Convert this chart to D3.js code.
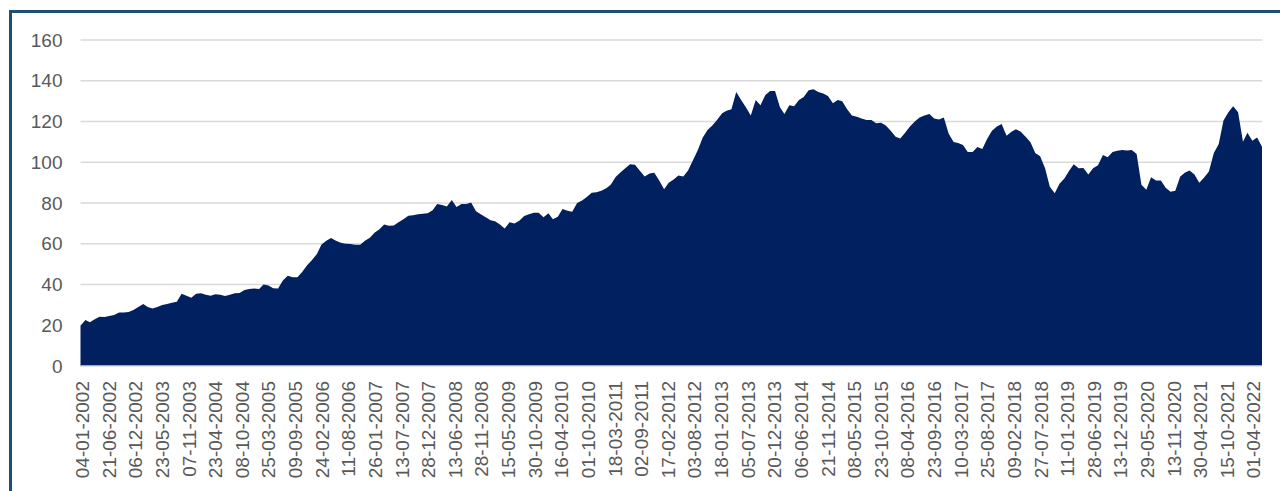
<!DOCTYPE html>
<html lang="en">
<head>
<meta charset="utf-8">
<title>Index chart</title>
<script src="https://d3js.org/d3.v7.min.js"></script>
<style>
  body { margin: 0; background: #fff; }
  svg text { font-family: "Liberation Sans", Arial, sans-serif; fill: #595959; }
</style>
</head>
<body>
<script>
// canvas
var w = 1280, h = 491;
var left = 80.5, right = 1262, top0 = 40, bottom = 366;

// first month of the series, one value per month after that
var firstMonth = "2002-01-01";
var lastMonth = "2022-06-01";

var values2002_2006 = [
  19.8, 22.6, 21.5, 23, 24.2, 24, 24.5, 25, 26.3, 26.3, 26.5, 27.5,
  29, 30.4, 29, 28.2, 29, 30, 30.4, 31, 31.5, 35.5, 34.5, 33.5,
  35.5, 35.7, 35, 34.5, 35.2, 35, 34.4, 35, 35.7, 35.8, 37.3, 37.8,
  38, 37.8, 40, 39.5, 38.2, 38, 42, 44.3, 43.5, 43.5, 46.3, 49.4,
  52, 55, 59.5, 61.5, 62.8, 61.5, 60.5, 60, 59.9, 59.5, 59.5, 61.5
];
var values2007_2011 = [
  63, 65.5, 67, 69.5, 68.8, 69, 70.5, 72, 73.8, 74, 74.5, 74.7,
  75, 76.5, 79.5, 79, 78.3, 81.5, 78, 79.5, 79.5, 80.2, 76, 74.5,
  73, 71.5, 71, 69.5, 67.5, 70.5, 70, 71.3, 73.6, 74.5, 75.2, 75.2,
  73, 75, 72, 73.3, 77, 76.2, 75.7, 80, 81.2, 83, 85, 85.3,
  86, 87.3, 89, 92.8, 95, 97, 99, 98.8, 95.8, 93, 94.5, 94.8
];
var values2012_2016 = [
  91, 86.7, 90, 91.5, 93.5, 93, 96, 101, 106, 112, 115.8, 118,
  120.8, 124, 125.3, 126, 134.5, 130.5, 127, 123, 130.5, 128, 133, 135,
  135, 127, 123.7, 128, 127.5, 130.5, 132, 135.3, 135.8, 134.5, 133.8, 132.5,
  129, 130.5, 130, 126, 123, 122.3, 121.5, 120.7, 120.7, 119.1, 119.4, 118,
  115.5, 112.5, 111.7, 114.5, 117.5, 120, 122, 123, 123.7, 121.5, 121, 122
];
var values2017_2022 = [
  114, 110, 109.4, 108.5, 105, 105, 107.5, 106.5, 111.5, 115.5, 117.5, 118.8,
  113, 115, 116.2, 115, 112.5, 109.8, 104.5, 103, 97, 88, 84.8, 89.5,
  92, 96, 99, 97, 97.2, 94, 97, 98.5, 103.5, 102.5, 105, 105.6,
  106, 105.8, 106, 104, 89, 86.5, 92.6, 91, 91, 87.5, 85.5, 86,
  93, 95, 96, 94, 90, 92.5, 95.5, 104.5, 109, 120.5, 124.5, 127.5,
  124.5, 110.1, 114.5, 110.5, 112.2, 107.6
];

var yTicks = [0, 20, 40, 60, 80, 100, 120, 140, 160];
var xTickLabels = [
  "04-01-2002", "21-06-2002", "06-12-2002", "23-05-2003", "07-11-2003",
  "23-04-2004", "08-10-2004", "25-03-2005", "09-09-2005", "24-02-2006",
  "11-08-2006", "26-01-2007", "13-07-2007", "28-12-2007", "13-06-2008",
  "28-11-2008", "15-05-2009", "30-10-2009", "16-04-2010", "01-10-2010",
  "18-03-2011", "02-09-2011", "17-02-2012", "03-08-2012", "18-01-2013",
  "05-07-2013", "20-12-2013", "06-06-2014", "21-11-2014", "08-05-2015",
  "23-10-2015", "08-04-2016", "23-09-2016", "10-03-2017", "25-08-2017",
  "09-02-2018", "27-07-2018", "11-01-2019", "28-06-2019", "13-12-2019",
  "29-05-2020", "13-11-2020", "30-04-2021", "15-10-2021", "01-04-2022"
];

var parseIso = d3.timeParse("%Y-%m-%d");
var parseTick = d3.timeParse("%d-%m-%Y");
var start = parseIso(firstMonth);

var allValues = values2002_2006.concat(values2007_2011, values2012_2016, values2017_2022);
var data = allValues.map(function(v, i) {
  return { date: d3.timeMonth.offset(start, i), value: v };
});

var x = d3.scaleTime().domain([start, parseIso(lastMonth)]).range([left, right]);
var y = d3.scaleLinear().domain([0, 160]).range([bottom, top0]);

var svg = d3.select("body").append("svg").attr("width", w).attr("height", h);
svg.append("rect").attr("width", w).attr("height", h).attr("fill", "white");

// frame (only top and left edges show in the picture)
svg.append("rect")
  .attr("x", 10.5).attr("y", 11.5)
  .attr("width", 1300).attr("height", 520)
  .attr("fill", "none").attr("stroke", "#1f4e79").attr("stroke-width", 3);

// gridlines
svg.append("g").selectAll("line").data(yTicks.slice(1)).enter().append("line")
  .attr("x1", left).attr("x2", right)
  .attr("y1", function(d) { return y(d); }).attr("y2", function(d) { return y(d); })
  .attr("stroke", "#d9d9d9").attr("stroke-width", 1.5);

// area
var area = d3.area()
  .x(function(d) { return x(d.date); })
  .y0(y(0))
  .y1(function(d) { return y(d.value); });
svg.append("path").datum(data).attr("d", area).attr("fill", "#002060");

// baseline
svg.append("line").attr("x1", left).attr("x2", right)
  .attr("y1", y(0)).attr("y2", y(0))
  .attr("stroke", "#d9d9d9").attr("stroke-width", 1.5);

// y axis labels
var yAxis = d3.axisLeft(y).tickValues(yTicks).tickSize(0).tickPadding(18);
var gy = svg.append("g").attr("transform", "translate(" + left + ",0)").call(yAxis);
gy.select(".domain").remove();
gy.selectAll("text").style("font-size", "19px").attr("fill", "#595959");

// x axis labels, rotated
var xAxis = d3.axisBottom(x)
  .tickValues(xTickLabels.map(parseTick))
  .tickFormat(d3.timeFormat("%d-%m-%Y"))
  .tickSize(0);
var gx = svg.append("g").attr("transform", "translate(0," + bottom + ")").call(xAxis);
gx.select(".domain").remove();
gx.selectAll("text")
  .style("font-size", "19px").attr("fill", "#595959")
  .attr("transform", "rotate(-90)")
  .attr("text-anchor", "end")
  .attr("x", -15).attr("y", 1).attr("dy", "0.35em");
</script>
</body>
</html>
